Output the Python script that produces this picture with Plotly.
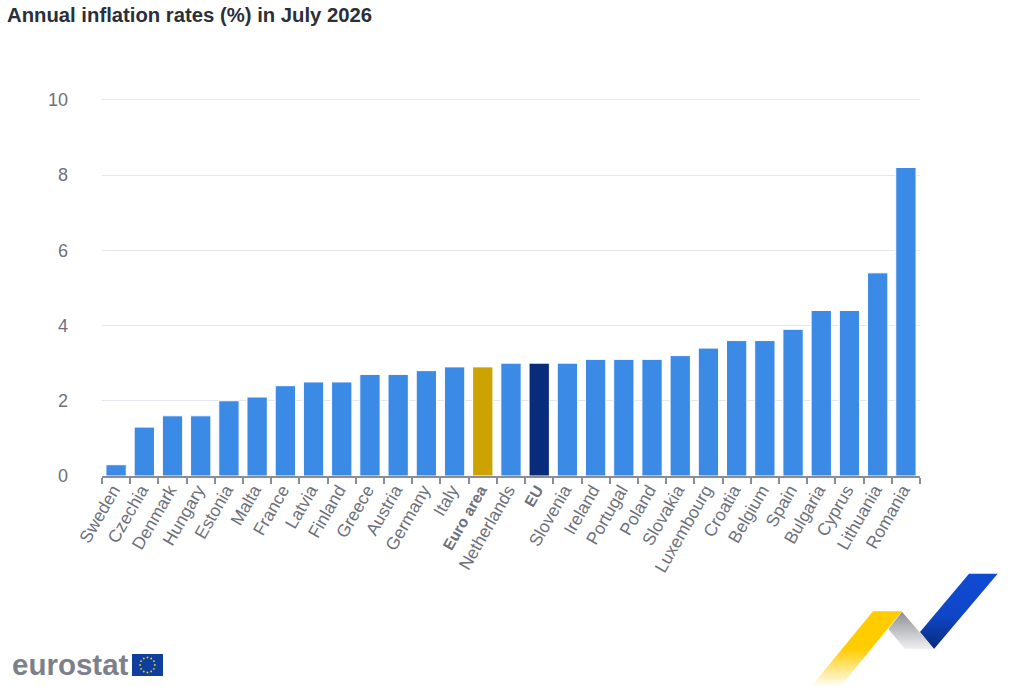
import base64
import plotly.graph_objects as go

W = 1022
H = 687
PLOT_L = 102
PLOT_T = 96
PLOT_W = 818
PLOT_H = 380

countries = ['Sweden', 'Czechia', 'Denmark', 'Hungary', 'Estonia', 'Malta', 'France', 'Latvia',
             'Finland', 'Greece', 'Austria', 'Germany', 'Italy',
             '<span style="font-size:15.5px"><b>Euro area</b></span>', 'Netherlands',
             '<span style="font-size:15.5px"><b>EU</b></span>', 'Slovenia', 'Ireland', 'Portugal', 'Poland',
             'Slovakia', 'Luxembourg', 'Croatia', 'Belgium', 'Spain', 'Bulgaria', 'Cyprus', 'Lithuania', 'Romania']
rates = [0.3, 1.3, 1.6, 1.6, 2.0, 2.1, 2.4, 2.5, 2.5, 2.7, 2.7, 2.8, 2.9, 2.9, 3.0, 3.0, 3.0,
         3.1, 3.1, 3.1, 3.2, 3.4, 3.6, 3.6, 3.9, 4.4, 4.4, 5.4, 8.2]
y_ticks = [0, 2, 4, 6, 8, 10]

BLUE = '#3a8ae6'
GOLD = '#cca300'
NAVY = '#082b7a'
GREY = '#6e717c'

colors = [GOLD if 'Euro' in c else NAVY if 'EU' in c else BLUE for c in countries]


# page pixels to paper coordinates
def px_x(x):
    return (x - PLOT_L) / PLOT_W


def px_y(y):
    return (PLOT_T + PLOT_H - y) / PLOT_H


# ribbon in the bottom right, drawn in page pixels
ribbon = f'''<svg xmlns="http://www.w3.org/2000/svg" width="{W}" height="{H}" viewBox="0 0 {W} {H}">
<defs>
<linearGradient id="b" x1="0" y1="574" x2="0" y2="649" gradientUnits="userSpaceOnUse">
<stop offset="0" stop-color="#0f4bd2"/><stop offset="0.55" stop-color="#0f46c8"/><stop offset="1" stop-color="#082b7a"/></linearGradient>
<linearGradient id="g" x1="0" y1="612" x2="0" y2="649" gradientUnits="userSpaceOnUse">
<stop offset="0" stop-color="#8e9094"/><stop offset="1" stop-color="#f0f0f2"/></linearGradient>
<linearGradient id="y" x1="0" y1="611" x2="0" y2="687" gradientUnits="userSpaceOnUse">
<stop offset="0" stop-color="#ffcc00"/><stop offset="0.5" stop-color="#ffcc00"/><stop offset="1" stop-color="#ffffff"/></linearGradient>
</defs>
<polygon points="969,573.7 997.7,573.7 934,649 920,632" fill="url(#b)"/>
<polygon points="888.3,629 902,611.7 934,649 905,649" fill="url(#g)"/>
<polygon points="873,611.3 902,611.3 840,687 810.7,687" fill="url(#y)"/>
</svg>'''

flag = '''<svg xmlns="http://www.w3.org/2000/svg" width="31" height="22" viewBox="0 0 31 22">
<rect width="31" height="22" fill="#0f3f9e"/>
<g fill="#ffcc00">''' + ''.join(
    f'<circle cx="{cx}" cy="{cy}" r="0.9"/>' for cx, cy in [
        (15.5, 3.5), (19.2, 4.5), (21.9, 7.2), (22.9, 11), (21.9, 14.8), (19.2, 17.5),
        (15.5, 18.5), (11.8, 17.5), (9.1, 14.8), (8.1, 11), (9.1, 7.2), (11.8, 4.5)]
) + '</g></svg>'


def svg_uri(svg):
    return 'data:image/svg+xml;base64,' + base64.b64encode(svg.encode()).decode()


fig = go.Figure(go.Bar(
    x=countries,
    y=rates,
    marker=dict(color=colors, line=dict(color='#ffffff', width=1)),
    hovertemplate='%{x}: %{y}<extra></extra>',
))

fig.update_layout(
    width=W,
    height=H,
    margin=dict(l=PLOT_L, r=W - PLOT_L - PLOT_W, t=PLOT_T, b=H - PLOT_T - PLOT_H, autoexpand=False),
    paper_bgcolor='#ffffff',
    plot_bgcolor='#ffffff',
    showlegend=False,
    bargap=0.28,
    font=dict(family='Liberation Sans', color=GREY, size=16),
    title=dict(text='<b>Annual inflation rates (%) in July 2026</b>', x=7 / W, xanchor='left',
               y=1 - 15 / H, yanchor='middle', font=dict(size=20.3, color='#2b2f3a')),
    xaxis=dict(
        tickangle=-60, tickson='boundaries', ticks='outside', ticklen=6, tickwidth=1.5,
        tickcolor='#8a8d96', showline=True, linecolor='#8a8d96', linewidth=2,
        showgrid=False, tickfont=dict(size=17.5, color=GREY), ticklabelstandoff=-5, ticklabelshift=-3,
    ),
    yaxis=dict(
        range=[0, 10.1], tickvals=y_ticks, gridcolor='#e4e6f2', gridwidth=1, zeroline=False,
        ticks='', ticklen=0, ticklabelstandoff=33, tickfont=dict(size=18, color=GREY), automargin=False,
    ),
    images=[
        dict(source=svg_uri(ribbon), xref='paper', yref='paper', x=px_x(0), y=px_y(0),
             sizex=W / PLOT_W, sizey=H / PLOT_H, xanchor='left', yanchor='top', layer='below', sizing='stretch'),
        dict(source=svg_uri(flag), xref='paper', yref='paper', x=px_x(132), y=px_y(654),
             sizex=31 / PLOT_W, sizey=22 / PLOT_H, xanchor='left', yanchor='top', layer='above', sizing='stretch'),
    ],
    annotations=[
        dict(text='<b>eurostat</b>', xref='paper', yref='paper', x=px_x(10), y=px_y(664),
             xanchor='left', yanchor='middle', showarrow=False,
             font=dict(size=29.5, color='#7d808b', family='Liberation Sans')),
    ],
)

fig.write_html('out.html', config={'displayModeBar': False}, post_script="document.body.style.margin='0';")
